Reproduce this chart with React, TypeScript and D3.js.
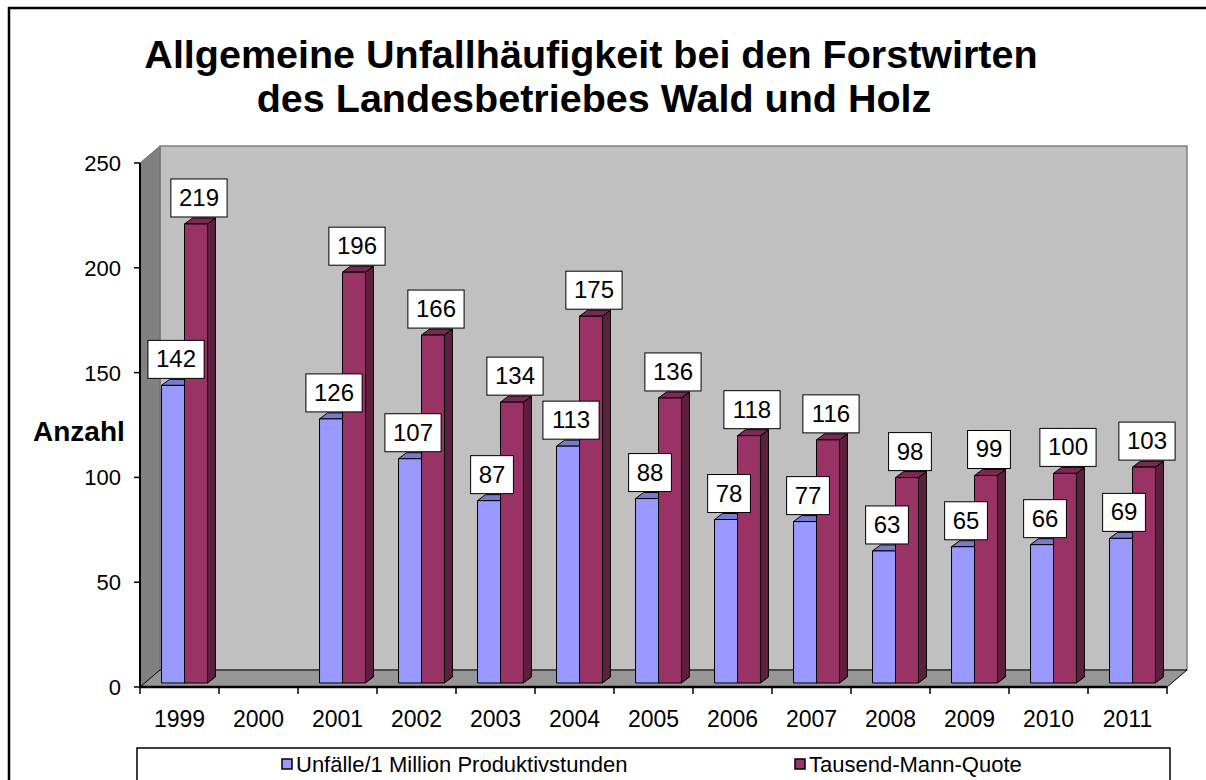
import React from 'react';
import * as d3 from 'd3';

const years = ['1999', '2000', '2001', '2002', '2003', '2004', '2005', '2006', '2007', '2008', '2009', '2010', '2011'];
const unfaelle = [142, null, 126, 107, 87, 113, 88, 78, 77, 63, 65, 66, 69];
const tausendMann = [219, null, 196, 166, 134, 175, 136, 118, 116, 98, 99, 100, 103];
const yTicks = [0, 50, 100, 150, 200, 250];
const seriesNames = ['Unfälle/1 Million Produktivstunden', 'Tausend-Mann-Quote'];

const FONT = '"Liberation Sans", Arial, sans-serif';

// 3d look
const DEPTH = { dx: 20, dy: -17 }; // floor / wall depth
const BAR_OFF = { dx: 5, dy: -4 }; // where bar front sits
const BAR_D = { dx: 8, dy: -6 }; // bar thickness

const colors = [
  { front: '#9999ff', side: '#6b6bb3', top: '#7a7acc' },
  { front: '#993366', side: '#5c1f3d', top: '#7a2952' },
];

export default function App() {
  const x = d3.scaleBand().domain(years).range([140, 1167]);
  const xs = d3.scaleBand().domain(['0', '1']).range([0, x.bandwidth()]).paddingOuter(0.72);
  const y = d3.scaleLinear().domain([0, 250]).range([687, 163]);

  const y0 = y(0);
  const yTop = y(250);
  const xL = x.range()[0];
  const xR = x.range()[1];

  const series = [unfaelle, tausendMann];
  const bars: any[] = [];
  const labels: any[] = [];

  years.forEach((yr, i) => {
    series.forEach((s, si) => {
      const v = s[i];
      if (v == null) return;
      const bx = (x(yr) as number) + (xs(String(si)) as number) + BAR_OFF.dx;
      const bw = xs.bandwidth();
      const top = y(v) + BAR_OFF.dy;
      const bot = y0 + BAR_OFF.dy;
      const c = colors[si];
      bars.push(
        <g key={`b${i}-${si}`} stroke="#000" strokeWidth={1} strokeLinejoin="round">
          <polygon
            points={`${bx + bw},${top} ${bx + bw + BAR_D.dx},${top + BAR_D.dy} ${bx + bw + BAR_D.dx},${bot + BAR_D.dy} ${bx + bw},${bot}`}
            fill={c.side}
          />
          <polygon
            points={`${bx},${top} ${bx + BAR_D.dx},${top + BAR_D.dy} ${bx + bw + BAR_D.dx},${top + BAR_D.dy} ${bx + bw},${top}`}
            fill={c.top}
          />
          <rect x={bx} y={top} width={bw} height={bot - top} fill={c.front} />
        </g>
      );
      const txt = String(v);
      const boxW = txt.length * 13.4 + 16;
      const boxH = 38;
      const cx = bx + bw / 2 + 3;
      const by = top - 7 - boxH;
      labels.push(
        <g key={`l${i}-${si}`}>
          <rect x={cx - boxW / 2} y={by} width={boxW} height={boxH} fill="#fff" stroke="#000" strokeWidth={1} />
          <text x={cx} y={by + boxH / 2 + 8} textAnchor="middle" fontSize={24} fontFamily={FONT} fill="#000">
            {txt}
          </text>
        </g>
      );
    });
  });

  return (
    <div style={{ position: 'fixed', left: 0, top: 0 }}>
      <svg width={1206} height={780} style={{ display: 'block', background: '#fff' }}>
        <rect x={9} y={8} width={1400} height={1000} fill="#fff" stroke="#000" strokeWidth={2.5} />

        <text x={591} y={68} textAnchor="middle" fontSize={39.5} fontWeight="bold" fontFamily={FONT}>
          Allgemeine Unfallhäufigkeit bei den Forstwirten
        </text>
        <text x={594} y={112} textAnchor="middle" fontSize={39.5} fontWeight="bold" fontFamily={FONT}>
          des Landesbetriebes Wald und Holz
        </text>

        {/* walls */}
        <polygon
          points={`${xL + DEPTH.dx},${yTop + DEPTH.dy} ${xR + DEPTH.dx},${yTop + DEPTH.dy} ${xR + DEPTH.dx},${y0 + DEPTH.dy} ${xL + DEPTH.dx},${y0 + DEPTH.dy}`}
          fill="#c0c0c0"
          stroke="#808080"
          strokeWidth={1.5}
        />
        <polygon
          points={`${xL},${yTop} ${xL + DEPTH.dx},${yTop + DEPTH.dy} ${xL + DEPTH.dx},${y0 + DEPTH.dy} ${xL},${y0}`}
          fill="#808080"
          stroke="#6e6e6e"
          strokeWidth={1}
        />
        <polygon
          points={`${xL},${y0} ${xL + DEPTH.dx},${y0 + DEPTH.dy} ${xR + DEPTH.dx},${y0 + DEPTH.dy} ${xR},${y0}`}
          fill="#969696"
          stroke="#000"
          strokeWidth={1}
        />

        {bars}

        {/* axes */}
        <line x1={xL} x2={xL} y1={yTop} y2={y0} stroke="#000" strokeWidth={2} />
        {yTicks.map((t) => (
          <g key={t}>
            <line x1={xL - 6} x2={xL} y1={y(t)} y2={y(t)} stroke="#000" strokeWidth={1.5} />
            <text x={121} y={y(t) + 8} textAnchor="end" fontSize={22} fontFamily={FONT}>
              {t}
            </text>
          </g>
        ))}
        <line x1={xL} x2={xR} y1={y0} y2={y0} stroke="#000" strokeWidth={2.5} />
        {[...years.map((yr) => x(yr) as number), xR].map((tx, i) => (
          <line key={i} x1={tx} x2={tx} y1={y0} y2={y0 + 7} stroke="#000" strokeWidth={1.5} />
        ))}
        {years.map((yr) => (
          <text key={yr} x={(x(yr) as number) + x.bandwidth() / 2} y={727} textAnchor="middle" fontSize={23} fontFamily={FONT}>
            {yr}
          </text>
        ))}

        <text x={33} y={441} fontSize={28} fontWeight="bold" fontFamily={FONT}>
          Anzahl
        </text>

        {labels}

        {/* legend */}
        <rect x={137} y={748} width={1033} height={60} fill="#fff" stroke="#000" strokeWidth={1.5} />
        {seriesNames.map((n, i) => {
          const lx = i === 0 ? 282 : 795;
          return (
            <g key={n}>
              <rect x={lx} y={759} width={10} height={10} fill={colors[i].front} stroke="#000" strokeWidth={1.5} />
              <text x={lx + 14} y={772} fontSize={22} fontFamily={FONT}>
                {n}
              </text>
            </g>
          );
        })}
      </svg>
    </div>
  );
}
